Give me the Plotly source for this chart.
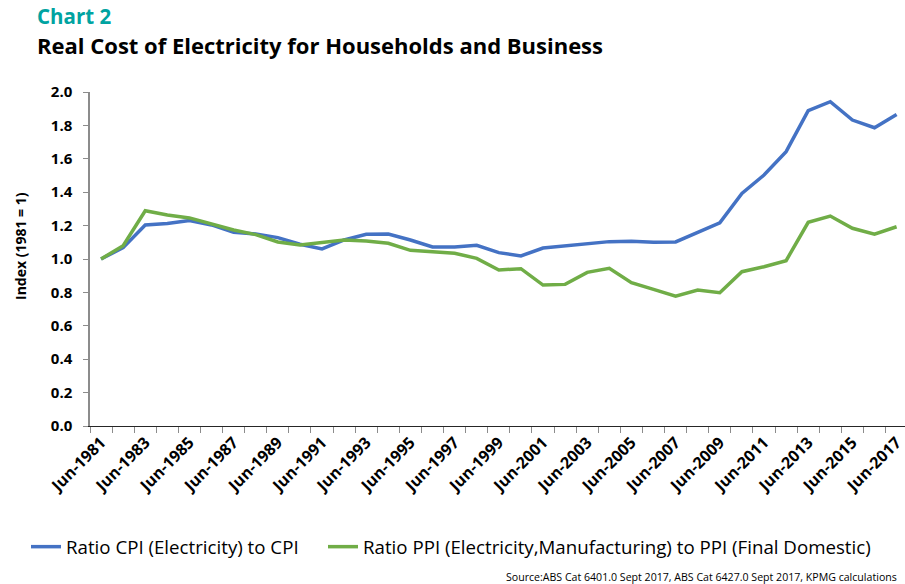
import plotly.graph_objects as go

# Financial years (June) covered by the series
years = list(range(1981, 2018))
period_labels = [f"Jun-{y}" for y in years]

# Ratio CPI (Electricity) to CPI, index 1981 = 1
cpi_ratio = [
    1.00, 1.068, 1.204, 1.212, 1.230, 1.204, 1.160, 1.150, 1.128, 1.088,
    1.060, 1.114, 1.148, 1.150, 1.114, 1.072, 1.072, 1.082, 1.038, 1.018,
    1.066, 1.080, 1.094, 1.104, 1.106, 1.100, 1.102, 1.157, 1.217, 1.393,
    1.503, 1.643, 1.888, 1.942, 1.832, 1.786, 1.866,
]

# Ratio PPI (Electricity, Manufacturing) to PPI (Final Domestic), index 1981 = 1
ppi_ratio = [
    1.00, 1.080, 1.289, 1.263, 1.246, 1.210, 1.174, 1.146, 1.102, 1.084,
    1.098, 1.114, 1.108, 1.094, 1.052, 1.044, 1.034, 1.004, 0.934, 0.942,
    0.844, 0.848, 0.920, 0.944, 0.858, 0.818, 0.778, 0.814, 0.798, 0.924,
    0.954, 0.990, 1.220, 1.257, 1.184, 1.148, 1.193,
]

series_names = [
    "Ratio CPI (Electricity) to CPI",
    "Ratio PPI (Electricity,Manufacturing) to PPI (Final Domestic)",
]
series_colors = ["#4472C4", "#70AD47"]

y_ticks = [0.0, 0.2, 0.4, 0.6, 0.8, 1.0, 1.2, 1.4, 1.6, 1.8, 2.0]

x_pos = list(range(len(years)))

W, H = 905, 584
L, R, T, B = 90, 0, 92, 158
plot_w = W - L - R
plot_h = H - T - B


def px_x(px):
    return (px - L) / plot_w


def px_y(py):
    return (H - B - py) / plot_h


# each series gets its own legend box so the two entries can be spaced freely
legend_keys = ["legend", "legend2"]
legend_left = [26, 323]

fig = go.Figure()
for name, vals, col, lg in zip(series_names, [cpi_ratio, ppi_ratio], series_colors, legend_keys):
    fig.add_trace(go.Scatter(
        x=x_pos, y=vals, mode="lines", name=name,
        line=dict(color=col, width=3.5),
        legend=lg, hoverinfo="skip",
    ))

legend_font = dict(family="Open Sans", size=18.7, color="#000000")
legend_common = dict(
    orientation="h", y=px_y(547), xanchor="left", yanchor="middle",
    font=legend_font, itemwidth=30, bgcolor="rgba(0,0,0,0)",
)

tick_font = dict(family="Open Sans", size=16, color="#000000", weight="bold")

fig.update_layout(
    width=W, height=H, autosize=False,
    margin=dict(l=L, r=R, t=T, b=B, pad=0),
    paper_bgcolor="white", plot_bgcolor="white",
    showlegend=True,
    legend=dict(x=px_x(legend_left[0]), **legend_common),
    legend2=dict(x=px_x(legend_left[1]), **legend_common),
    xaxis=dict(
        range=[-0.5, 36.38],
        tickmode="array",
        tickvals=x_pos[::2],
        ticktext=period_labels[::2],
        tickangle=-45,
        ticks="",
        tickfont=tick_font,
        ticklabeloverflow="allow",
        minor=dict(tick0=-0.5, dtick=1, ticks="outside", ticklen=6,
                   tickcolor="#8c8c8c", tickwidth=1, showgrid=False),
        showline=True, linecolor="#262626", linewidth=1,
        showgrid=False, zeroline=False, fixedrange=True,
    ),
    yaxis=dict(
        range=[0, 2],
        tickmode="array",
        tickvals=y_ticks,
        tickformat=".1f",
        ticks="outside", ticklen=5, tickcolor="#8c8c8c", tickwidth=1,
        ticklabelstandoff=8,
        tickfont=dict(family="Open Sans", size=15, color="#000000", weight="bold"),
        showline=True, linecolor="#8c8c8c", linewidth=1.5,
        showgrid=False, zeroline=False, fixedrange=True,
    ),
    annotations=[
        dict(text="Chart 2", xref="paper", yref="paper",
             x=px_x(35), y=px_y(16), xanchor="left", yanchor="middle",
             showarrow=False,
             font=dict(family="Open Sans", size=20.5, color="#00A3A1", weight="bold")),
        dict(text="Real Cost of Electricity for Households and Business",
             xref="paper", yref="paper",
             x=px_x(35), y=px_y(45), xanchor="left", yanchor="middle",
             showarrow=False,
             font=dict(family="Open Sans", size=22, color="#000000", weight="bold")),
        dict(text="Index (1981 = 1)", xref="paper", yref="paper",
             x=px_x(20), y=px_y(246), xanchor="center", yanchor="middle",
             textangle=-90, showarrow=False,
             font=dict(family="Open Sans", size=14, color="#000000", weight="bold")),
        dict(text="Source:ABS Cat 6401.0 Sept 2017, ABS Cat 6427.0 Sept 2017, KPMG calculations",
             xref="paper", yref="paper",
             x=px_x(899), y=px_y(577), xanchor="right", yanchor="middle",
             showarrow=False,
             font=dict(family="Open Sans", size=10.6, color="#000000")),
    ],
)

fig.write_html("out.html")
